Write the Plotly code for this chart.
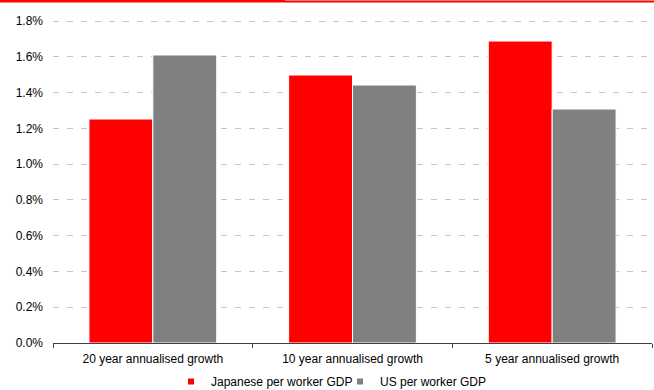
import plotly.graph_objects as go

categories = ["20 year annualised growth", "10 year annualised growth", "5 year annualised growth"]
japan = [1.252, 1.498, 1.688]
us = [1.610, 1.442, 1.308]
y_ticks = [0.0, 0.2, 0.4, 0.6, 0.8, 1.0, 1.2, 1.4, 1.6, 1.8]
y_labels = ["0.0%", "0.2%", "0.4%", "0.6%", "0.8%", "1.0%", "1.2%", "1.4%", "1.6%", "1.8%"]

W, H = 654, 390
L, R, T, B = 53, 2, 19, 47
pw, ph = W - L - R, H - T - B
y_max = 1.8 * ph / (ph - 2)

def px(x):
    return (x - L) / pw

def py(y):
    return (H - B - y) / ph

fig = go.Figure()
fig.add_bar(x=categories, y=japan, name="Japanese per worker GDP", showlegend=False,
            marker=dict(color="#ff0000", line=dict(color="white", width=1)))
fig.add_bar(x=categories, y=us, name="US per worker GDP", showlegend=False,
            marker=dict(color="#808080", line=dict(color="white", width=1)))
# legend entries with small square markers
fig.add_scatter(x=[None], y=[None], mode="markers", name="Japanese per worker GDP",
                marker=dict(symbol="square", size=6, color="#ff0000"))
fig.add_scatter(x=[None], y=[None], mode="markers", name="US per worker GDP",
                marker=dict(symbol="square", size=6, color="#808080"))

fig.update_layout(
    width=W, height=H,
    margin=dict(l=L, r=R, t=T, b=B, autoexpand=False),
    paper_bgcolor="white", plot_bgcolor="white",
    barmode="group", bargap=0.36, bargroupgap=0.0,
    font=dict(family="Liberation Sans, Arial, sans-serif", size=12, color="#000000"),
    showlegend=True,
    legend=dict(orientation="h", x=px(171), xanchor="left", y=py(396), yanchor="bottom",
                font=dict(size=12), itemwidth=30, entrywidth=124, traceorder="normal",
                bgcolor="rgba(0,0,0,0)"),
    xaxis=dict(showline=True, linecolor="#404040", linewidth=1, ticks="outside",
               tickson="boundaries", ticklen=4, tickcolor="#404040", showgrid=False,
               tickfont=dict(size=12), ticklabelstandoff=5),
    yaxis=dict(range=[0, y_max], tickvals=y_ticks, ticktext=y_labels, showgrid=True,
               gridcolor="#c4c4c4", griddash="6px,8px", gridwidth=1, zeroline=False,
               showline=False, ticks="", tickfont=dict(size=12), ticklabelstandoff=9),
    shapes=[
        dict(type="line", xref="paper", yref="paper", x0=px(285), x1=px(654),
             y0=py(1.5), y1=py(1.5), line=dict(color="#ff0000", width=2), layer="above"),
        dict(type="line", xref="paper", yref="paper", x0=px(0), x1=px(285),
             y0=py(1.2), y1=py(1.2), line=dict(color="#ff0000", width=2.5), layer="above"),
    ],
)

fig.write_html("out.html")
